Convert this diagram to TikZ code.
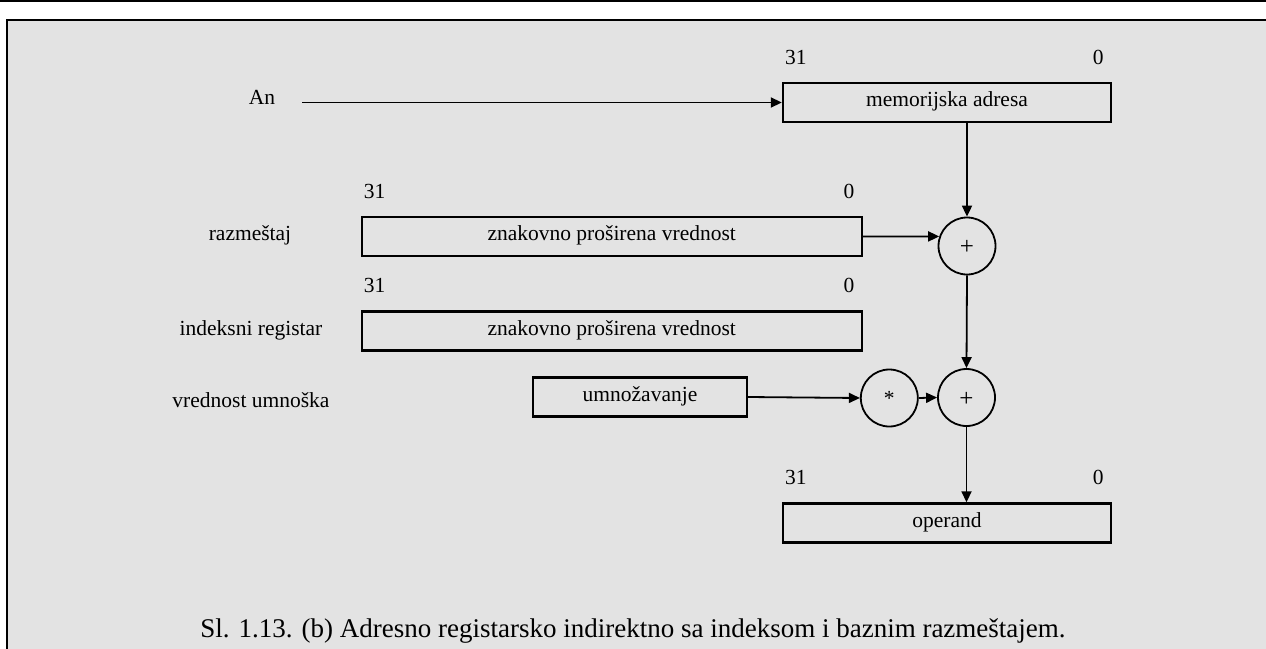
\documentclass[tikz,border=0pt]{standalone}
\usepackage{fontspec}
\setmainfont{Liberation Serif}
\usetikzlibrary{arrows.meta,calc}
\definecolor{panel}{RGB}{227,227,227}
\begin{document}
\begin{tikzpicture}[x=1pt,y=-1pt,
  every node/.style={font=\fontsize{21.5}{26}\selectfont, inner sep=0pt, text height=2.1ex, text depth=.25ex},
  regbox/.style={draw, line width=2.4pt, minimum height=39pt},
  opcircle/.style={draw, circle, line width=1.8pt, minimum size=57pt},
  opsign/.style={font=\fontsize{25}{30}\selectfont},
  flow/.style={line width=1.8pt, -{Triangle[length=11pt,width=10pt]}},
  capt/.style={font=\fontsize{27}{32}\selectfont}]
\useasboundingbox (0,0) rectangle (1266,648);
\clip (0,0) rectangle (1266,648);

% page rule and shaded frame
\draw[line width=1.2pt] (0,1) -- (1266,1);
\draw[line width=2.2pt, fill=panel] (7,20) rectangle (1280,670);

% registers
\node[regbox, minimum width=328pt] (mem) at (947,102.5) {memorijska adresa};
\node[regbox, minimum width=500pt] (disp) at (611.7,236.5) {znakovno proširena vrednost};
\node[regbox, minimum width=500pt] (idx) at (611.7,331) {znakovno proširena vrednost};
\node[regbox, minimum width=214pt] (mul) at (640,397) {umnožavanje};
\node[regbox, minimum width=328pt] (op) at (947,523) {operand};

% bit numbers
\foreach \b in {mem,disp,idx,op}{
  \node (\b31) at ([shift={(14,-22)}]\b.north west) {31};
  \node (\b0) at ([shift={(-14,-22)}]\b.north east) {0};
}

% row labels
\node (an) at (262,100) {An};
\node (lbldisp) at (250,236) {razmeštaj};
\node (lblidx) at (251,331) {indeksni registar};
\node (lblmul) at (251,403) {vrednost umnoška};

% operators
\node[opcircle, opsign] (sum1) at (967,246) {\raisebox{-4.5pt}{+}};
\node[opcircle] (prod) at (889.3,398) {\raisebox{-3pt}{*}};
\node[opcircle, opsign] (sum2) at (966.5,397.5) {\raisebox{-4.5pt}{+}};

% data paths
\draw[flow, shorten <=27pt] (mem.west -| an.east) -- (mem.west);
\draw[flow] (sum1.north |- mem.south) -- (sum1.north);
\draw[flow] (disp.east) -- (sum1.161);
\draw[flow] (sum1.south) -- (sum2.north);
\draw[flow] (mul.east) -- (prod.west);
\draw[flow] (prod.east) -- (sum2.west);
\draw[flow] (sum2.south) -- (sum2.south |- op.north);

% caption
\node[capt] (cap) at (633,633) {Sl. 1.13. (b) Adresno registarsko indirektno sa indeksom i baznim razmeštajem.};
\end{tikzpicture}
\end{document}
